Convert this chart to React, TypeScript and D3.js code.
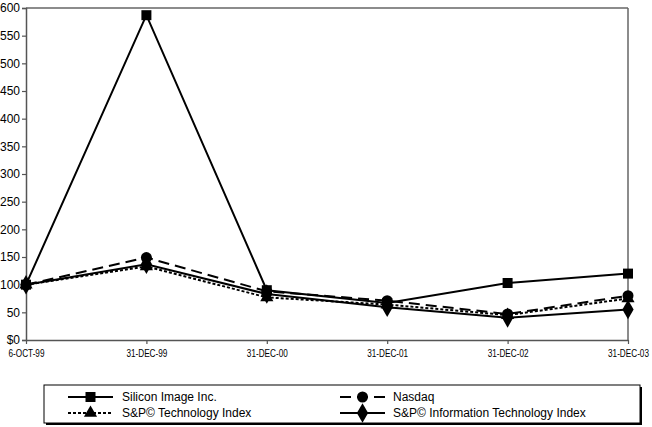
import React, { useEffect, useRef } from 'react';
import * as d3 from 'd3';

const categories = ['6-OCT-99', '31-DEC-99', '31-DEC-00', '31-DEC-01', '31-DEC-02', '31-DEC-03'];
const siliconImage = [100, 587, 90, 67, 103, 120];
const nasdaq = [100, 149, 88, 71, 47, 80];
const spTech = [100, 133, 77, 64, 45, 75];
const spInfoTech = [100, 137, 83, 59, 40, 55];
const yTicks = [0, 50, 100, 150, 200, 250, 300, 350, 400, 450, 500, 550, 600];

type Marker = 'square' | 'circle' | 'triangle' | 'diamond';
interface Series { name: string; values: number[]; marker: Marker; dash: string; }

const series: Series[] = [
  { name: 'Silicon Image Inc.', values: siliconImage, marker: 'square', dash: '' },
  { name: 'Nasdaq', values: nasdaq, marker: 'circle', dash: '11,6' },
  { name: 'S&P\u00A9 Technology Index', values: spTech, marker: 'triangle', dash: '3,2' },
  { name: 'S&P\u00A9 Information Technology Index', values: spInfoTech, marker: 'diamond', dash: '' },
];

const symbolFor = (m: Marker) => {
  if (m === 'square') return d3.symbol().type(d3.symbolSquare).size(100)();
  if (m === 'circle') return d3.symbol().type(d3.symbolCircle).size(95)();
  if (m === 'triangle') return d3.symbol().type(d3.symbolTriangle).size(75)();
  return d3.symbol().type(d3.symbolDiamond).size(110)();
};

export default function App() {
  const svgRef = useRef<SVGSVGElement>(null);

  useEffect(() => {
    if (!svgRef.current) return;
    const svg = d3.select(svgRef.current);
    svg.selectAll('*').remove();

    const left = 26, right = 628, top = 8, bottom = 340;
    const x = d3.scalePoint<string>().domain(categories).range([left, right]);
    const y = d3.scaleLinear().domain([0, 600]).range([bottom, top]);
    const font = 'Liberation Sans, Arial, sans-serif';

    // frame: top + right borders
    svg.append('line').attr('x1', left).attr('x2', right).attr('y1', top).attr('y2', top)
      .attr('stroke', '#666').attr('stroke-width', 1.5);
    svg.append('line').attr('x1', right).attr('x2', right).attr('y1', top).attr('y2', bottom)
      .attr('stroke', '#666').attr('stroke-width', 1.5);

    // y axis
    const yAxis = svg.append('g').attr('transform', `translate(${left},0)`)
      .call(d3.axisLeft(y).tickValues(yTicks).tickSize(4).tickPadding(2)
        .tickFormat(d => (d === 0 ? '$0' : `${d}`)));
    yAxis.select('.domain').attr('stroke', '#555').attr('stroke-width', 1.5);
    yAxis.selectAll('.tick line').attr('stroke', '#555').attr('stroke-width', 1.2);
    yAxis.selectAll('text').attr('font-family', font).attr('font-size', 12).attr('fill', '#000');

    // x axis
    const xAxis = svg.append('g').attr('transform', `translate(0,${bottom})`)
      .call(d3.axisBottom(x).tickSize(4).tickSizeOuter(0).tickPadding(6));
    xAxis.select('.domain').attr('stroke', '#555').attr('stroke-width', 1.5);
    xAxis.selectAll('.tick line').attr('stroke', '#555').attr('stroke-width', 1.2);
    xAxis.selectAll('text').attr('font-family', font).attr('font-size', 10).attr('fill', '#000')
      .attr('transform', 'scale(0.82,1)');

    const line = d3.line<number>().x((_, i) => x(categories[i]) as number).y(d => y(d));

    series.forEach(s => {
      svg.append('path').datum(s.values).attr('d', line).attr('fill', 'none')
        .attr('stroke', '#000').attr('stroke-width', 2).attr('stroke-dasharray', s.dash || null);
      svg.append('g').selectAll('path').data(s.values).enter().append('path')
        .attr('d', symbolFor(s.marker))
        .attr('transform', (d, i) => `translate(${x(categories[i])},${y(d)})`)
        .attr('fill', '#000');
    });

    // legend
    const lg = svg.append('g');
    lg.append('rect').attr('x', 46).attr('y', 387).attr('width', 596).attr('height', 38).attr('fill', '#000');
    lg.append('rect').attr('x', 44).attr('y', 385).attr('width', 596).attr('height', 38)
      .attr('fill', '#fff').attr('stroke', '#000').attr('stroke-width', 1);
    const cols = [
      { x1: 68, x2: 113, tx: 122 },
      { x1: 340, x2: 385, tx: 393 },
    ];
    const rows = [397, 413];
    series.forEach((s, i) => {
      const c = cols[i % 2];
      const ry = rows[Math.floor(i / 2)];
      lg.append('line').attr('x1', c.x1).attr('x2', c.x2).attr('y1', ry).attr('y2', ry)
        .attr('stroke', '#000').attr('stroke-width', 2).attr('stroke-dasharray', s.dash || null);
      lg.append('path').attr('d', symbolFor(s.marker))
        .attr('transform', `translate(${(c.x1 + c.x2) / 2},${ry})`).attr('fill', '#000');
      lg.append('text').attr('x', c.tx).attr('y', ry).attr('dy', '0.35em')
        .attr('font-family', font).attr('font-size', 12).attr('fill', '#000').text(s.name);
    });
  }, []);

  return (
    <div style={{ position: 'fixed', left: 0, top: 0 }}>
      <svg ref={svgRef} width={652} height={427} style={{ display: 'block', background: '#fff' }} />
    </div>
  );
}
